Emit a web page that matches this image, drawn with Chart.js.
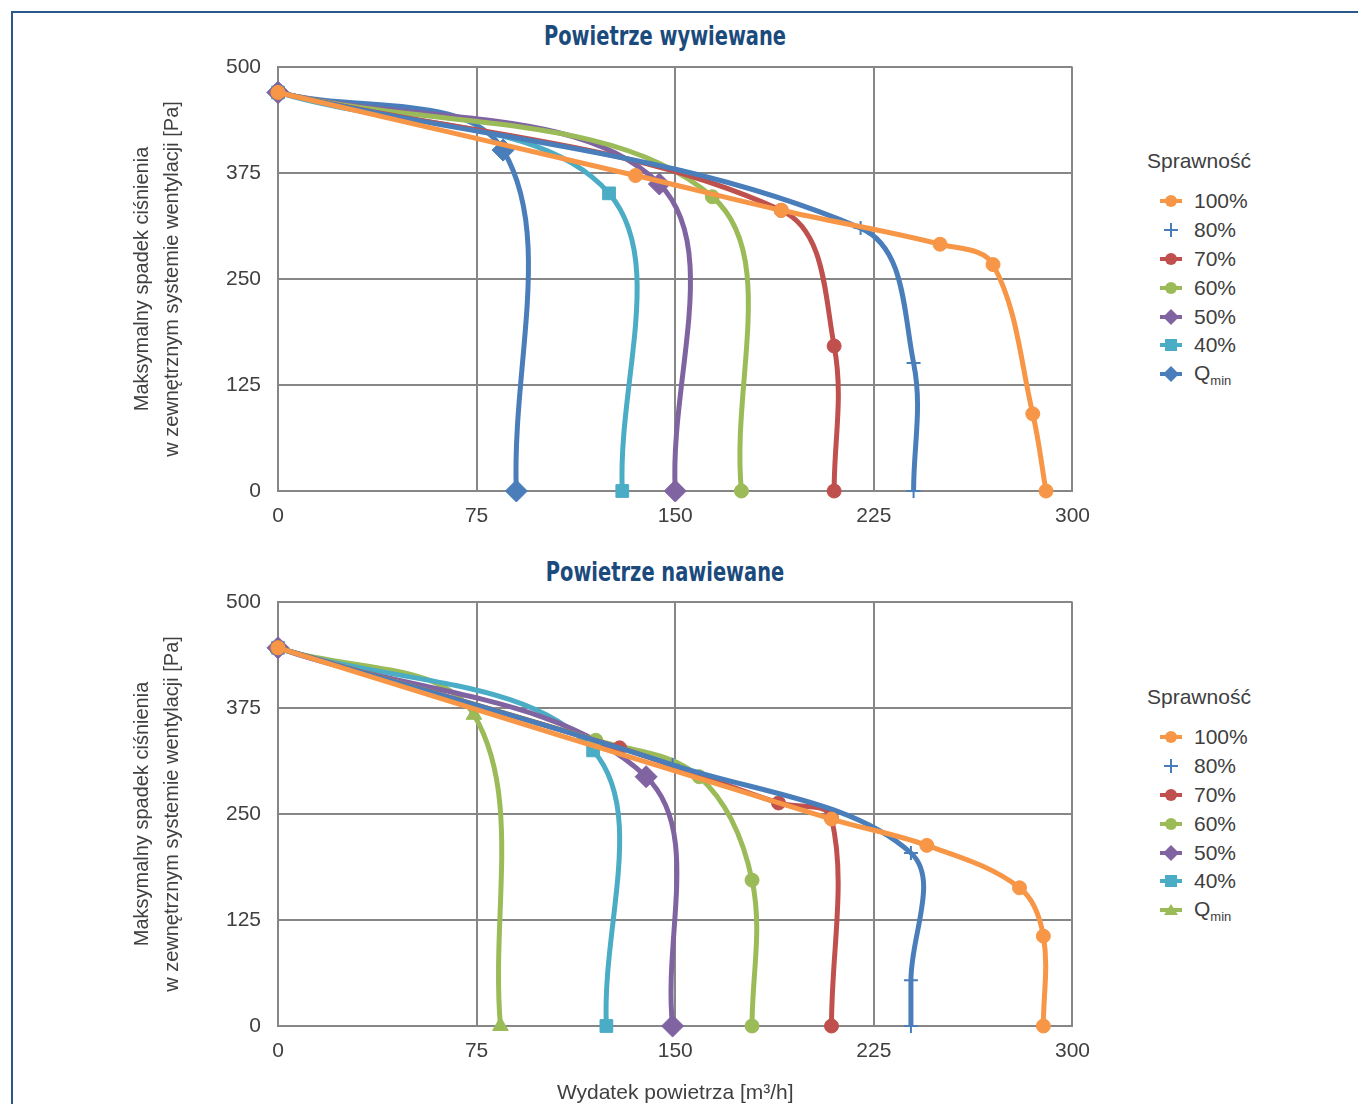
<!DOCTYPE html>
<html>
<head>
<meta charset="utf-8">
<script src="https://cdn.jsdelivr.net/npm/chart.js@4.4.1/dist/chart.umd.min.js"></script>
<style>
  body { margin: 0; background: #fff; }
  #page { position: relative; width: 1358px; height: 1104px; overflow: hidden; font-family: "Liberation Sans", Arial, sans-serif; }
  .frame { position: absolute; left: 11px; top: 11px; width: 1400px; height: 1200px; border-top: 2px solid #2a5a8c; border-left: 2px solid #2a5a8c; }
  .title { position: absolute; width: 400px; text-align: center; font-family: "Liberation Sans Narrow", "DejaVu Sans Condensed", sans-serif; font-weight: bold; font-size: 27px; color: #1b4a7c; transform: scaleX(0.8); transform-origin: center; }
  .wrap { position: absolute; left: 100px; width: 1003px; }
  .legend { position: absolute; left: 1147px; color: #404040; font-size: 21px; }
  .legend .head { height: 38px; line-height: 24px; }
  .legend .item { height: 28.8px; display: flex; align-items: center; padding-left: 12px; }
  .legend svg { width: 24px; height: 18px; margin-right: 11px; }
  sub { font-size: 13px; vertical-align: -5px; }
</style>
</head>
<body>
<div id="page">
  <div class="frame"></div>
  <div class="title" style="left:465px; top:20px;">Powietrze wywiewane</div>
  <div class="title" style="left:465px; top:556px;">Powietrze nawiewane</div>
  <div class="wrap" style="top:0; height:545px;"><canvas id="chartTop"></canvas></div>
  <div class="wrap" style="top:540px; height:564px;"><canvas id="chartBottom"></canvas></div>
  <div class="legend" id="legendTop" style="top:149px;"></div>
  <div class="legend" id="legendBottom" style="top:685px;"></div>
</div>
<script>
'use strict';

// axis ticks
const xTicks = [0, 75, 150, 225, 300];
const yTicks = [0, 125, 250, 375, 500];

// series labels (legend order)
const seriesNames = ['100%', '80%', '70%', '60%', '50%', '40%', 'Qmin'];

// Powietrze wywiewane
const wyw100x = [0, 135, 190, 250, 270, 285, 290];
const wyw100y = [470, 372, 331, 291, 267, 91, 0];
const wyw80x = [0, 220, 240, 240];
const wyw80y = [470, 310, 151, 0];
const wyw70x = [0, 190, 210, 210];
const wyw70y = [470, 331, 171, 0];
const wyw60x = [0, 164, 175];
const wyw60y = [470, 347, 0];
const wyw50x = [0, 144, 150];
const wyw50y = [470, 362, 0];
const wyw40x = [0, 125, 130];
const wyw40y = [470, 351, 0];
const wywQx = [0, 85, 90];
const wywQy = [470, 402, 0];

// Powietrze nawiewane
const naw100x = [0, 209, 245, 280, 289, 289];
const naw100y = [446, 244, 213, 163, 106, 0];
const naw80x = [0, 149, 239, 239, 239];
const naw80y = [446, 308, 204, 54, 0];
const naw70x = [0, 129, 189, 209, 209];
const naw70y = [446, 328, 263, 245, 0];
const naw60x = [0, 120, 159, 179, 179];
const naw60y = [446, 337, 294, 172, 0];
const naw50x = [0, 139, 149];
const naw50y = [446, 294, 0];
const naw40x = [0, 119, 124];
const naw40y = [446, 325, 0];
const nawQx = [0, 74, 84];
const nawQy = [446, 367, 0];

const colors = ['#F79646', '#4A7EBB', '#C0504D', '#9BBB59', '#8064A2', '#4BACC6'];

function pts(xs, ys) {
  return xs.map((x, i) => ({ x: x, y: ys[i] }));
}

function makeSet(label, xs, ys, color, style, radius) {
  return {
    label: label,
    data: pts(xs, ys),
    showLine: true,
    borderColor: color,
    backgroundColor: color,
    borderWidth: 5,
    tension: 0.36,
    pointStyle: style,
    pointRadius: radius,
    pointHoverRadius: radius,
    pointBorderWidth: style === 'cross' ? 2 : 1,
    pointBorderColor: color,
    pointBackgroundColor: color,
    clip: false
  };
}

function makeChart(id, sets, padTop, xHeight, showXTitle) {
  const ctx = document.getElementById(id).getContext('2d');
  const tickFont = { family: '"Liberation Sans", Arial, sans-serif', size: 21 };
  const chart = new Chart(ctx, {
    type: 'scatter',
    data: { datasets: sets },
    options: {
      responsive: true,
      maintainAspectRatio: false,
      animation: false,
      layout: { padding: { top: padTop, right: 0, left: 0, bottom: 0 } },
      plugins: { legend: { display: false }, tooltip: { enabled: false } },
      scales: {
        x: {
          type: 'linear', min: 0, max: 300,
          afterBuildTicks: s => { s.ticks = xTicks.map(v => ({ value: v })); },
          afterFit: s => { s.height = xHeight; },
          grid: { color: '#868686', lineWidth: 2, drawTicks: false },
          border: { color: '#868686', width: 2 },
          ticks: { font: tickFont, color: '#404040', padding: 13, maxRotation: 0 },
          title: {
            display: showXTitle,
            text: 'Wydatek powietrza [m³/h]',
            font: { family: '"Liberation Sans", Arial, sans-serif', size: 21, lineHeight: 1.0 },
            color: '#404040',
            padding: { top: 0, bottom: 0 }
          }
        },
        y: {
          type: 'linear', min: 0, max: 500,
          afterBuildTicks: s => { s.ticks = yTicks.map(v => ({ value: v })); },
          afterFit: s => { s.width = 178; },
          grid: { color: '#868686', lineWidth: 2, drawTicks: false },
          border: { color: '#868686', width: 2 },
          ticks: { font: tickFont, color: '#404040', padding: 17 },
          title: {
            display: true,
            text: ['Maksymalny spadek ciśnienia', 'w zewnętrznym systemie wentylacji [Pa]'],
            font: { family: '"Liberation Sans", Arial, sans-serif', size: 20, lineHeight: 1.5 },
            color: '#404040',
            padding: { top: 27, bottom: 0 }
          }
        }
      }
    }
  });
  return chart;
}

const topSets = [
  makeSet(seriesNames[0], wyw100x, wyw100y, colors[0], 'circle', 7),
  makeSet(seriesNames[1], wyw80x, wyw80y, colors[1], 'cross', 7),
  makeSet(seriesNames[2], wyw70x, wyw70y, colors[2], 'circle', 7),
  makeSet(seriesNames[3], wyw60x, wyw60y, colors[3], 'circle', 7),
  makeSet(seriesNames[4], wyw50x, wyw50y, colors[4], 'rectRot', 11),
  makeSet(seriesNames[5], wyw40x, wyw40y, colors[5], 'rect', 9),
  makeSet(seriesNames[6], wywQx, wywQy, colors[1], 'rectRot', 11)
];

const bottomSets = [
  makeSet(seriesNames[0], naw100x, naw100y, colors[0], 'circle', 7),
  makeSet(seriesNames[1], naw80x, naw80y, colors[1], 'cross', 7),
  makeSet(seriesNames[2], naw70x, naw70y, colors[2], 'circle', 7),
  makeSet(seriesNames[3], naw60x, naw60y, colors[3], 'circle', 7),
  makeSet(seriesNames[4], naw50x, naw50y, colors[4], 'rectRot', 11),
  makeSet(seriesNames[5], naw40x, naw40y, colors[5], 'rect', 9),
  makeSet(seriesNames[6], nawQx, nawQy, colors[3], 'triangle', 9)
];

makeChart('chartTop', topSets, 67, 54, false);
makeChart('chartBottom', bottomSets, 62, 78, true);

// html legend (for the subscript in Q min)
function marker(style, color) {
  let m = '';
  if (style === 'circle') m = '<circle cx="12" cy="9" r="6" fill="' + color + '"/>';
  if (style === 'rect') m = '<rect x="6" y="3" width="12" height="12" fill="' + color + '"/>';
  if (style === 'rectRot') m = '<polygon points="12,1 20,9 12,17 4,9" fill="' + color + '"/>';
  if (style === 'triangle') m = '<polygon points="12,3 19,14 5,14" fill="' + color + '"/>';
  if (style === 'cross') {
    return '<svg viewBox="0 0 24 18"><line x1="12" y1="2" x2="12" y2="16" stroke="' + color +
      '" stroke-width="2"/><line x1="5" y1="9" x2="19" y2="9" stroke="' + color + '" stroke-width="2"/></svg>';
  }
  return '<svg viewBox="0 0 24 18"><line x1="1" y1="9" x2="23" y2="9" stroke="' + color +
    '" stroke-width="4"/>' + m + '</svg>';
}

function buildLegend(id, sets) {
  let html = '<div class="head">Sprawność</div>';
  sets.forEach(s => {
    const txt = s.label === 'Qmin' ? 'Q<sub>min</sub>' : s.label;
    html += '<div class="item">' + marker(s.pointStyle, s.borderColor) + '<span>' + txt + '</span></div>';
  });
  document.getElementById(id).innerHTML = html;
}

buildLegend('legendTop', topSets);
buildLegend('legendBottom', bottomSets);
</script>
</body>
</html>
